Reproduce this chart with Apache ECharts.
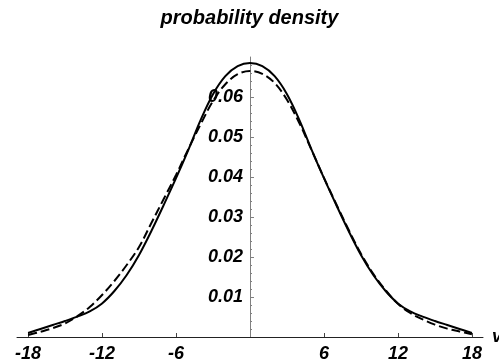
<!DOCTYPE html>
<html>
<head>
<meta charset="utf-8">
<script src="https://cdn.jsdelivr.net/npm/echarts@6/dist/echarts.min.js"></script>
<style>html,body{margin:0;padding:0;background:#fff}#c{width:499px;height:364px}</style>
</head>
<body>
<div id="c"></div>
<script>
const xs = [-18,-17,-16,-15,-14,-13,-12,-11,-10,-9,-8,-7,-6,-5,-4,-3,-2,-1,0,1,2,3,4,5,6,7,8,9,10,11,12,13,14,15,16,17,18];
const solidY = [0.0010,0.0020,0.0030,0.0040,0.0051,0.0064,0.0084,0.0115,0.0155,0.0205,0.0265,0.0330,0.0397,0.0468,0.0543,0.0607,0.0652,0.0677,0.0685,0.0677,0.0652,0.0607,0.0543,0.0468,0.0397,0.0330,0.0265,0.0205,0.0155,0.0115,0.0084,0.0064,0.0051,0.0040,0.0030,0.0020,0.0010];
const dashedY = [0.0005,0.0013,0.0022,0.0034,0.0052,0.0075,0.0105,0.0140,0.0180,0.0225,0.0285,0.0345,0.0405,0.0470,0.0532,0.0590,0.0632,0.0657,0.0665,0.0658,0.0635,0.0593,0.0535,0.0467,0.0398,0.0332,0.0268,0.0208,0.0158,0.0117,0.0083,0.0060,0.0044,0.0031,0.0021,0.0014,0.0007];
const xTickLabels = [-18,-12,-6,6,12,18];
const yTickLabels = [0.01,0.02,0.03,0.04,0.05,0.06];

const font = 'Liberation Sans, Arial, sans-serif';
const gridLeft = 17, gridRight = 16, xMin = -18.9, xMax = 18.9;
const plotW = 499 - gridLeft - gridRight;
const yAxisOffset = -plotW * (0 - xMin) / (xMax - xMin);
const chart = echarts.init(document.getElementById('c'));
chart.setOption({
  animation: false,
  title: {
    text: 'probability density', left: 'center', top: 3,
    textStyle: {fontFamily: font, fontSize: 20, fontWeight: 'bold', fontStyle: 'italic', color: '#000'}
  },
  grid: {left: gridLeft, right: gridRight, top: 57, bottom: 27, containLabel: false, outerBoundsMode: 'none'},
  xAxis: {
    type: 'value', min: xMin, max: xMax,
    name: 'v', nameLocation: 'end', nameGap: 9,
    nameTextStyle: {fontFamily: font, fontSize: 18, fontWeight: 'bold', fontStyle: 'italic', color: '#000'},
    axisLine: {show: true, onZero: false, lineStyle: {color: '#222', width: 1}},
    axisTick: {show: true, inside: true, length: 4, customValues: xTickLabels, lineStyle: {color: '#444'}},
    axisLabel: {customValues: xTickLabels, margin: 8, fontFamily: font, fontSize: 18, fontWeight: 'bold', fontStyle: 'italic', color: '#000'},
    splitLine: {show: false}
  },
  yAxis: {
    type: 'value', min: 0, max: 0.07, interval: 0.01, position: 'left', offset: yAxisOffset,
    axisLine: {show: true, onZero: false, lineStyle: {color: '#808080', width: 1}},
    axisTick: {show: true, inside: true, length: 4, customValues: yTickLabels, lineStyle: {color: '#808080'}},
    minorTick: {show: true, splitNumber: 5, length: 2, lineStyle: {color: '#808080'}},
    axisLabel: {customValues: yTickLabels, margin: 7, formatter: v => v.toFixed(2), fontFamily: font, fontSize: 18, fontWeight: 'bold', fontStyle: 'italic', color: '#000'},
    splitLine: {show: false}
  },
  series: [
    {type: 'line', data: xs.map((x, i) => [x, solidY[i]]), smooth: 0.35, symbol: 'none', lineStyle: {color: '#000', width: 2}, z: 3},
    {type: 'line', data: xs.map((x, i) => [x, dashedY[i]]), smooth: 0.35, symbol: 'none', lineStyle: {color: '#000', width: 2, type: [9, 4]}, z: 2}
  ]
});
</script>
</body>
</html>
